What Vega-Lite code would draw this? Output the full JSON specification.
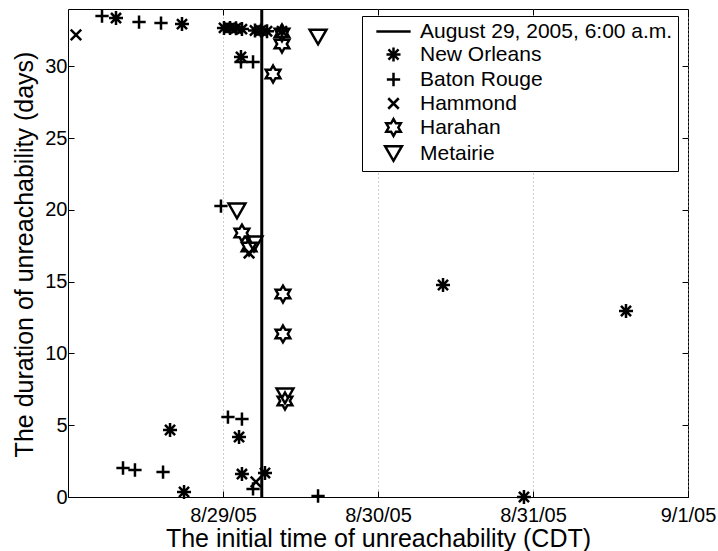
{
  "$schema": "https://vega.github.io/schema/vega-lite/v6.json",
  "width": 620,
  "height": 488,
  "autosize": "none",
  "padding": {"left": 68, "top": 9, "right": 30, "bottom": 54},
  "background": "white",
  "config": {
    "font": "Liberation Sans",
    "view": {"stroke": "black", "strokeWidth": 1},
    "axis": {"labelColor": "black", "titleColor": "black", "tickColor": "black", "labelFont": "Liberation Sans", "titleFont": "Liberation Sans", "titleFontWeight": "normal"}
  },
  "datasets": {
    "pts": [
      {"city": "Hammond", "t": "2005-08-28T01:14:00Z", "d": 32.19},
      {"city": "Hammond", "t": "2005-08-29T04:02:00Z", "d": 17.0},
      {"city": "Hammond", "t": "2005-08-29T05:06:00Z", "d": 1.05},
      {"city": "Baton Rouge", "t": "2005-08-28T05:16:00Z", "d": 33.51},
      {"city": "Baton Rouge", "t": "2005-08-28T11:00:00Z", "d": 33.09},
      {"city": "Baton Rouge", "t": "2005-08-28T14:24:00Z", "d": 33.02},
      {"city": "Baton Rouge", "t": "2005-08-29T02:47:00Z", "d": 30.31},
      {"city": "Baton Rouge", "t": "2005-08-29T04:39:00Z", "d": 30.31},
      {"city": "Baton Rouge", "t": "2005-08-28T23:41:00Z", "d": 20.27},
      {"city": "Baton Rouge", "t": "2005-08-29T00:46:00Z", "d": 5.57},
      {"city": "Baton Rouge", "t": "2005-08-29T02:56:00Z", "d": 5.43},
      {"city": "Baton Rouge", "t": "2005-08-28T08:31:00Z", "d": 2.02},
      {"city": "Baton Rouge", "t": "2005-08-28T10:22:00Z", "d": 1.88},
      {"city": "Baton Rouge", "t": "2005-08-28T14:43:00Z", "d": 1.74},
      {"city": "Baton Rouge", "t": "2005-08-29T04:39:00Z", "d": 0.56},
      {"city": "Baton Rouge", "t": "2005-08-29T14:43:00Z", "d": 0.07},
      {"city": "New Orleans", "t": "2005-08-28T07:26:00Z", "d": 33.37},
      {"city": "New Orleans", "t": "2005-08-28T17:39:00Z", "d": 32.95},
      {"city": "New Orleans", "t": "2005-08-29T00:09:00Z", "d": 32.68},
      {"city": "New Orleans", "t": "2005-08-29T01:05:00Z", "d": 32.68},
      {"city": "New Orleans", "t": "2005-08-29T02:01:00Z", "d": 32.66},
      {"city": "New Orleans", "t": "2005-08-29T02:56:00Z", "d": 32.6},
      {"city": "New Orleans", "t": "2005-08-29T04:57:00Z", "d": 32.5},
      {"city": "New Orleans", "t": "2005-08-29T05:53:00Z", "d": 32.5},
      {"city": "New Orleans", "t": "2005-08-29T06:49:00Z", "d": 32.45},
      {"city": "New Orleans", "t": "2005-08-29T02:47:00Z", "d": 30.66},
      {"city": "New Orleans", "t": "2005-08-29T09:08:00Z", "d": 32.45},
      {"city": "New Orleans", "t": "2005-08-28T15:48:00Z", "d": 4.67},
      {"city": "New Orleans", "t": "2005-08-28T17:58:00Z", "d": 0.35},
      {"city": "New Orleans", "t": "2005-08-29T02:29:00Z", "d": 4.18},
      {"city": "New Orleans", "t": "2005-08-29T02:56:00Z", "d": 1.6},
      {"city": "New Orleans", "t": "2005-08-29T06:30:00Z", "d": 1.67},
      {"city": "New Orleans", "t": "2005-08-30T22:36:00Z", "d": 0.0},
      {"city": "New Orleans", "t": "2005-08-30T10:04:00Z", "d": 14.77},
      {"city": "New Orleans", "t": "2005-08-31T14:24:00Z", "d": 12.96},
      {"city": "Harahan", "t": "2005-08-29T09:08:00Z", "d": 32.33},
      {"city": "Harahan", "t": "2005-08-29T09:08:00Z", "d": 31.56},
      {"city": "Harahan", "t": "2005-08-29T07:45:00Z", "d": 29.47},
      {"city": "Harahan", "t": "2005-08-29T02:56:00Z", "d": 18.39},
      {"city": "Harahan", "t": "2005-08-29T04:02:00Z", "d": 17.42},
      {"city": "Harahan", "t": "2005-08-29T09:17:00Z", "d": 14.14},
      {"city": "Harahan", "t": "2005-08-29T09:17:00Z", "d": 11.36},
      {"city": "Harahan", "t": "2005-08-29T09:36:00Z", "d": 6.69},
      {"city": "Metairie", "t": "2005-08-29T14:43:00Z", "d": 32.05},
      {"city": "Metairie", "t": "2005-08-29T02:10:00Z", "d": 19.93},
      {"city": "Metairie", "t": "2005-08-29T04:48:00Z", "d": 17.63},
      {"city": "Metairie", "t": "2005-08-29T09:36:00Z", "d": 7.04}
    ],
    "event": [
      {"t": "2005-08-29T06:00:00Z"}
    ]
  },
  "layer": [
    {
      "data": {"name": "event"},
      "mark": {"type": "rule", "color": "black", "strokeWidth": 3},
      "encoding": {
        "x": {
          "field": "t", "type": "temporal",
          "scale": {"type": "utc", "domain": [{"year": 2005, "month": 8, "date": 28, "utc": true}, {"year": 2005, "month": 9, "date": 1, "utc": true}]},
          "axis": {
            "orient": "top", "labels": false, "title": null, "domain": false, "grid": false, "tickSize": -6,
            "values": [{"year": 2005, "month": 8, "date": 29, "utc": true}, {"year": 2005, "month": 8, "date": 30, "utc": true}, {"year": 2005, "month": 8, "date": 31, "utc": true}, {"year": 2005, "month": 9, "date": 1, "utc": true}]
          }
        }
      }
    },
    {
      "data": {"name": "pts"},
      "mark": {"type": "point", "filled": false, "color": "black", "strokeWidth": 2.5, "size": 196, "opacity": 1},
      "encoding": {
        "x": {
          "field": "t", "type": "temporal",
          "scale": {"type": "utc", "domain": [{"year": 2005, "month": 8, "date": 28, "utc": true}, {"year": 2005, "month": 9, "date": 1, "utc": true}]},
          "axis": {
            "orient": "bottom", "labelExpr": "utcFormat(datum.value, '%-m/%-d/%y')", "labelFontSize": 20, "labelPadding": 14,
            "tickSize": -6, "domain": false, "grid": true, "gridDash": [1, 3], "gridColor": "#9a9a9a", "gridWidth": 1,
            "labelFlush": false, "labelOverlap": false,
            "values": [{"year": 2005, "month": 8, "date": 29, "utc": true}, {"year": 2005, "month": 8, "date": 30, "utc": true}, {"year": 2005, "month": 8, "date": 31, "utc": true}, {"year": 2005, "month": 9, "date": 1, "utc": true}],
            "title": "The initial time of unreachability (CDT)", "titleFontSize": 25, "titleX": 310, "titleY": 49, "titleBaseline": "alphabetic", "titleAlign": "center"
          }
        },
        "y": {
          "field": "d", "type": "quantitative",
          "scale": {"domain": [0, 34], "nice": false},
          "axis": {
            "orient": "left", "values": [0, 5, 10, 15, 20, 25, 30], "labelFontSize": 20, "labelPadding": 7,
            "tickSize": -6, "domain": false, "grid": false, "labelFlush": false, "labelOverlap": false,
            "title": "The duration of unreachability (days)", "titleFontSize": 25, "titleX": -36, "titleY": 245, "titleBaseline": "alphabetic", "titleAlign": "center", "titleAngle": -90
          }
        },
        "shape": {
          "field": "city", "type": "nominal",
          "scale": {
            "domain": ["August 29, 2005, 6:00 a.m.", "New Orleans", "Baton Rouge", "Hammond", "Harahan", "Metairie"],
            "range": [
              "M-2.45,0H2.45",
              "M-1,0H1M0,-1V1M-0.72,-0.72L0.72,0.72M-0.72,0.72L0.72,-0.72",
              "M-0.95,0H0.95M0,-0.95V0.95",
              "M-0.75,-0.75L0.75,0.75M-0.75,0.75L0.75,-0.75",
              "M0,-1.2L0.346,-0.6L1.039,-0.6L0.693,0L1.039,0.6L0.346,0.6L0,1.2L-0.346,0.6L-1.039,0.6L-0.693,0L-1.039,-0.6L-0.346,-0.6Z",
              "M-1.2,-1.05L1.2,-1.05L0,1.05Z"
            ]
          },
          "legend": {
            "orient": "none", "legendX": 294, "legendY": 7, "title": null, "padding": 5,
            "strokeColor": "black", "fillColor": "white", "cornerRadius": 0,
            "labelFontSize": 21, "labelFont": "Liberation Sans", "labelColor": "black", "labelLimit": 400,
            "symbolSize": 196, "symbolStrokeWidth": 2.5, "symbolStrokeColor": "black", "symbolFillColor": "transparent",
            "symbolOffset": 16, "labelOffset": 16, "rowPadding": 0
          }
        }
      }
    },
    {
      "data": {"name": "pts"},
      "mark": {"type": "point", "opacity": 0},
      "encoding": {
        "x": {"field": "t", "type": "temporal", "axis": null,
          "scale": {"type": "utc", "domain": [{"year": 2005, "month": 8, "date": 28, "utc": true}, {"year": 2005, "month": 9, "date": 1, "utc": true}]}},
        "y": {
          "field": "d", "type": "quantitative",
          "scale": {"domain": [0, 34], "nice": false},
          "axis": {"orient": "right", "values": [0, 5, 10, 15, 20, 25, 30], "labels": false, "title": null, "tickSize": -6, "domain": false, "grid": false}
        }
      }
    }
  ],
  "resolve": {"axis": {"x": "independent", "y": "independent"}}
}
